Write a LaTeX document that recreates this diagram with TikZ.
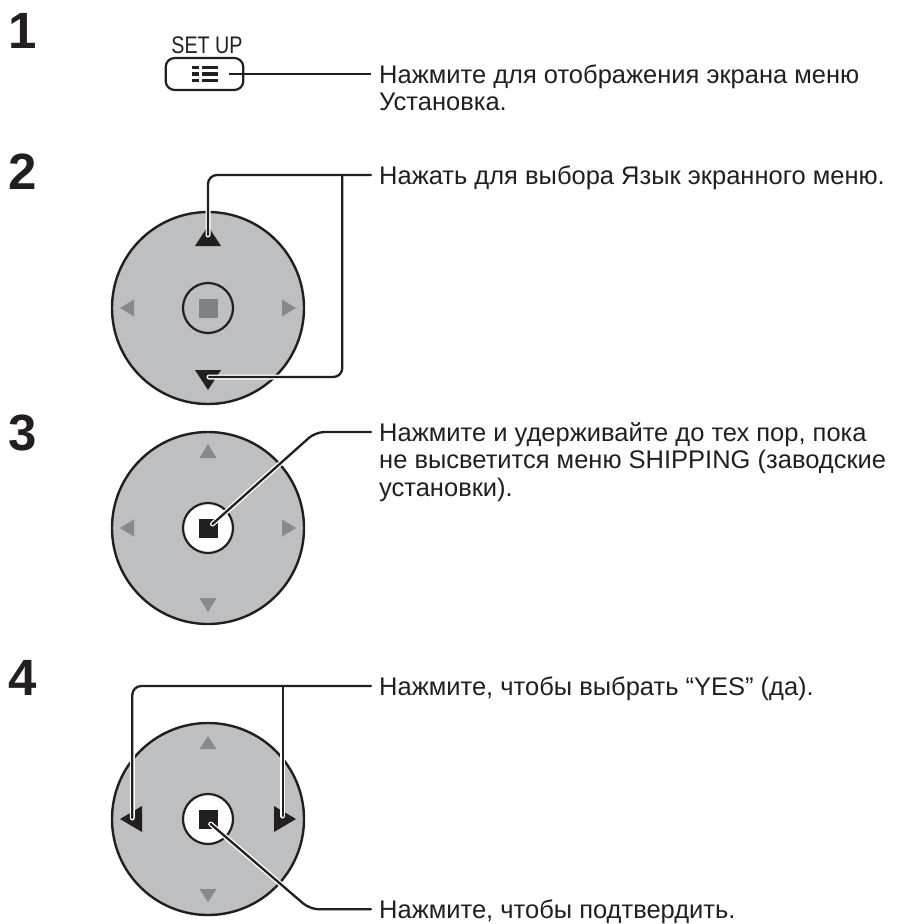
\documentclass[tikz,border=0pt]{standalone}
\usepackage{fontspec}
\setmainfont{Liberation Sans}
\definecolor{padgray}{HTML}{BEBFC1}
\definecolor{arrgray}{HTML}{87898B}
\definecolor{ink}{HTML}{231F20}
\definecolor{sqgray}{HTML}{818285}
\begin{document}
\begin{tikzpicture}[x=1pt,y=-1pt,
  pad/.style={circle, fill=padgray, draw=ink, line width=2.4pt, minimum size=192pt, inner sep=0pt},
  hub/.style={circle, draw=ink, line width=2.2pt, minimum size=50pt, inner sep=0pt},
  sq/.style={rectangle, minimum size=19pt, inner sep=0pt},
  casing/.style={draw=white, line width=5pt, line cap=round, rounded corners=9pt},
  leader/.style={draw=ink, line width=2.3pt, line cap=round, rounded corners=9pt},
  txt/.style={anchor=base west, inner sep=0pt, font=\fontsize{25.5}{27.5}\selectfont, text=ink},
  num/.style={anchor=base west, inner sep=0pt, font=\fontsize{51}{51}\selectfont\bfseries, text=ink},
  bigtri/.style={fill=ink},
  smalltri/.style={fill=arrgray}]
\useasboundingbox (0,0) rectangle (908,924);

% ---------- numbers ----------
\node[num] (n1) at (8,48) {1};
\node[num] (n2) at (8,189) {2};
\node[num] (n3) at (8,450) {3};
\node[num] (n4) at (8,695) {4};

% ---------- step 1 ----------
\node[anchor=base, inner sep=0pt, font=\fontsize{24}{24}\selectfont, text=ink] (setup) at (207,53) {\scalebox{0.82}[1]{SET UP}};
\node[draw=ink, line width=2.2pt, rounded corners=9pt, minimum width=77.6pt, minimum height=32pt, inner sep=0pt] (btn) at (204.5,74) {};
\foreach \r in {-6.5,0,6.5}{
  \fill[ink] (192.3,74+\r-1.65) rectangle (199,74+\r+1.65);
  \fill[ink] (201.7,74+\r-1.65) rectangle (218.3,74+\r+1.65);
}
\coordinate (b1) at (229,74);
\coordinate (e1) at (371,74);
\draw[ink, line width=2.2pt] (b1) -- (e1);
\node[txt] (t1a) at (379,83.1) {Нажмите для отображения экрана меню};
\node[txt] (t1b) at (379,110.6) {Установка.};

% ---------- step 2 ----------
\node[pad] (pad2) at (208,308) {};
\begin{scope}[shift={(208,308)}]
  \fill[bigtri] (0,-82) -- (13,-62) -- (-13,-62) -- cycle;
  \fill[bigtri] (0,82) -- (13,62) -- (-13,62) -- cycle;
  \fill[smalltri] (-88,0) -- (-74,-8.5) -- (-74,8.5) -- cycle;
  \fill[smalltri] (88,0) -- (74,-8.5) -- (74,8.5) -- cycle;
\end{scope}
\node[hub, fill=padgray] (hub2) at (pad2) {};
\node[sq, fill=sqgray] (sq2) at (pad2) {};
\coordinate (up2) at (208,235);
\coordinate (dn2) at (209,377);
\coordinate (j2) at (342.3,175);
\coordinate (e2) at (371,175);
\path[casing] (up2) |- (e2);
\path[casing] (j2) |- (dn2);
\path[leader] (up2) |- (e2);
\path[leader] (j2) |- (dn2);
\node[txt] (t2a) at (379,184.1) {Нажать для выбора Язык экранного меню.};

% ---------- step 3 ----------
\node[pad] (pad3) at (208,528) {};
\begin{scope}[shift={(208,528)}]
  \fill[smalltri] (0,-84) -- (8.5,-70) -- (-8.5,-70) -- cycle;
  \fill[smalltri] (0,84) -- (8.5,70) -- (-8.5,70) -- cycle;
  \fill[smalltri] (-88,0) -- (-74,-8.5) -- (-74,8.5) -- cycle;
  \fill[smalltri] (88,0) -- (74,-8.5) -- (74,8.5) -- cycle;
\end{scope}
\node[hub, fill=white] (hub3) at (pad3) {};
\node[sq, fill=ink] (sq3) at (pad3) {};
\coordinate (s3) at (212.5,524);
\coordinate (c3) at (315.5,432);
\coordinate (e3) at (371,432);
\path[casing] (s3) -- (c3) -- (e3);
\path[leader] (s3) -- (c3) -- (e3);
\node[txt] (t3a) at (379,441.1) {Нажмите и удерживайте до тех пор, пока};
\node[txt] (t3b) at (379,468.6) {не высветится меню SHIPPING (заводские};
\node[txt] (t3c) at (379,496.1) {установки).};

% ---------- step 4 ----------
\node[pad] (pad4) at (208,819) {};
\begin{scope}[shift={(208,819)}]
  \fill[smalltri] (0,-83) -- (8.5,-70) -- (-8.5,-70) -- cycle;
  \fill[smalltri] (0,83) -- (8.5,70) -- (-8.5,70) -- cycle;
  \fill[bigtri] (-88,0) -- (-66,-13) -- (-66,13) -- cycle;
  \fill[bigtri] (88,0) -- (66,-13) -- (66,13) -- cycle;
\end{scope}
\node[hub, fill=white] (hub4) at (pad4) {};
\node[sq, fill=ink] (sq4) at (pad4) {};
\coordinate (lf4) at (132.3,818);
\coordinate (rt4) at (282.7,816);
\coordinate (j4) at (282.7,686);
\coordinate (e4) at (371,686);
\coordinate (s4) at (210.7,824);
\coordinate (c4) at (310,909.3);
\coordinate (e5) at (371,909.3);
\path[casing] (lf4) |- (e4);
\path[casing] (j4) -- (rt4);
\path[casing] (s4) -- (c4) -- (e5);
\path[leader] (lf4) |- (e4);
\path[leader] (j4) -- (rt4);
\path[leader] (s4) -- (c4) -- (e5);
\node[txt] (t4a) at (379,695.1) {Нажмите, чтобы выбрать “YES” (да).};
\node[txt] (t5a) at (379,918) {Нажмите, чтобы подтвердить.};
\end{tikzpicture}
\end{document}
